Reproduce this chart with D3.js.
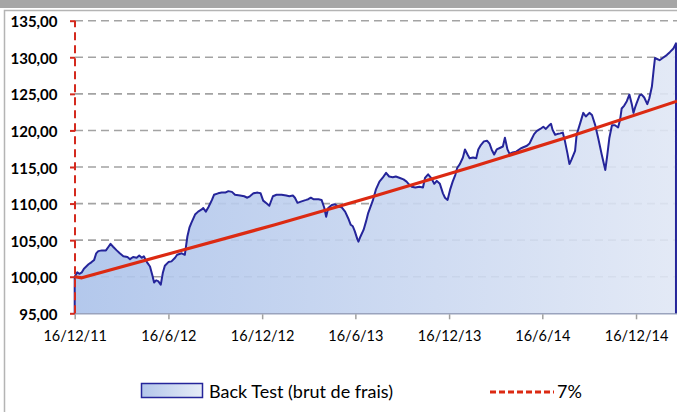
<!DOCTYPE html>
<html><head><meta charset="utf-8">
<script src="https://cdn.jsdelivr.net/npm/d3@7"></script>
<style>html,body{margin:0;padding:0;background:#fff;overflow:hidden}svg{display:block}</style>
</head><body>
<script>
// ---- data ----
const startDate = "2011-12-16";
const endDay = 1176;
const backTestDays = [0,5,9,14,18,27,33,38,42,46,53,61,66,70,75,82,88,95,103,108,114,121,126,131,135,141,147,152,155,159,163,168,172,176,183,189,196,200,209,215,220,224,228,235,241,248,251,256,261,268,272,280,287,294,300,307,313,323,331,337,342,349,357,363,368,375,380,387,394,404,413,419,426,430,435,443,452,456,461,466,476,482,487,491,495,502,508,515,521,528,534,539,543,547,552,554,558,564,569,573,582,588,595,601,608,614,621,627,635,642,648,653,658,665,673,680,684,690,697,702,707,713,719,723,728,733,738,743,747,752,758,762,767,771,778,784,788,793,799,805,810,814,819,824,830,836,840,845,849,855,862,870,876,883,888,892,897,902,909,915,920,925,930,933,938,942,948,953,957,962,966,970,977,980,987,993,998,1005,1010,1016,1022,1029,1036,1040,1044,1049,1055,1061,1065,1068,1073,1078,1083,1088,1091,1094,1097,1103,1107,1112,1118,1122,1127,1130,1133,1136,1142,1148,1156,1162,1169,1174];
const backTestValues = [100.0,100.6,100.4,100.6,101.1,101.7,102.0,102.3,103.2,103.5,103.6,103.6,104.1,104.5,104.1,103.6,103.2,102.8,102.7,102.4,102.7,102.6,102.9,102.6,102.8,102.0,101.4,100.1,99.2,99.5,99.4,98.9,100.5,101.5,102.0,102.1,102.6,103.0,103.2,103.0,105.5,106.7,107.4,108.5,108.9,109.2,109.4,108.9,109.5,110.5,111.2,111.4,111.5,111.5,111.7,111.6,111.2,111.1,111.0,110.8,111.0,111.4,111.5,111.4,110.4,110.0,109.7,111.0,111.2,111.2,111.1,111.0,111.1,110.8,110.1,110.3,110.5,110.6,110.8,110.6,110.6,110.5,109.5,108.2,109.4,109.8,109.9,109.6,109.5,108.9,108.0,107.1,106.9,106.2,105.1,104.8,105.5,106.4,107.6,108.7,110.4,111.9,113.0,113.5,114.2,113.7,113.6,113.7,113.5,113.3,113.0,112.6,112.3,112.2,112.3,112.2,113.5,114.0,113.4,112.7,113.1,112.7,111.4,110.8,110.5,111.9,113.0,113.9,114.9,115.4,116.3,117.4,116.7,116.2,116.3,116.2,117.4,118.0,118.5,118.6,118.2,117.4,116.7,117.4,117.6,117.8,119.0,117.4,116.8,117.0,117.1,117.5,117.7,117.9,118.2,118.8,119.5,119.9,120.2,120.5,120.2,120.6,120.9,120.1,119.4,119.5,119.6,119.7,118.6,116.9,115.4,116.0,117.2,119.4,121.0,122.4,121.9,122.4,122.1,120.8,119.0,116.7,114.6,116.7,119.0,120.7,120.7,120.4,121.5,123.0,123.4,124.0,124.9,123.5,122.4,123.1,123.7,124.8,124.9,124.5,123.6,124.4,126.0,128.0,129.9,129.8,129.6,129.9,130.3,130.7,131.2,131.9];
const trendDays = [0,14,190,391,584,780,973,1176];
const trendValues = [100.0,99.85,103.25,107.1,111.0,115.1,119.3,124.0];
const yTicks = [95,100,105,110,115,120,125,130,135];
const xTickDates = ["2011-12-16","2012-06-16","2012-12-16","2013-06-16","2013-12-16","2014-06-16","2014-12-16"];
const xTickLabels = ["16/12/11","16/6/12","16/12/12","16/6/13","16/12/13","16/6/14","16/12/14"];
const seriesNames = ["Back Test (brut de frais)","7%"];

// ---- drawing ----
const W = 677, H = 412;
const FONT = "Lato, 'Liberation Sans', sans-serif";
const parse = d3.timeParse("%Y-%m-%d");
const t0 = parse(startDate);
const dayToDate = d => d3.timeDay.offset(t0, d);
const backTest = backTestDays.map((d,i)=>({date:dayToDate(d), v:backTestValues[i]}));
const trend = trendDays.map((d,i)=>({date:dayToDate(d), v:trendValues[i]}));

const svg = d3.select("body").append("svg").attr("width",W).attr("height",H);
const defs = svg.append("defs");
const grad = defs.append("linearGradient").attr("id","areaGrad").attr("x1","0").attr("x2","1").attr("y1","0").attr("y2","0");
grad.append("stop").attr("offset","0").attr("stop-color","#abc2ea");
grad.append("stop").attr("offset","1").attr("stop-color","#e0e7f5");
const grad2 = defs.append("linearGradient").attr("id","legGrad").attr("x1","0").attr("x2","1").attr("y1","0").attr("y2","0");
grad2.append("stop").attr("offset","0").attr("stop-color","#b3c6ea");
grad2.append("stop").attr("offset","1").attr("stop-color","#e6ecf7");

// header band and frame
svg.append("rect").attr("x",0).attr("y",0).attr("width",W).attr("height",8).attr("fill","#a6a6a6");
svg.append("rect").attr("x",4.5).attr("y",10.5).attr("width",W).attr("height",H).attr("fill","none").attr("stroke","#b4b4b4").attr("stroke-width",1.5);

const x = d3.scaleTime().domain([t0, dayToDate(endDay)]).range([74.7, 677]);
const y = d3.scaleLinear().domain([95,135]).range([313.3, 20.7]);

// gridlines
svg.append("g").selectAll("line").data(yTicks.filter(t=>t>95)).join("line")
  .attr("x1",75).attr("x2",W).attr("y1",d=>y(d)).attr("y2",d=>y(d))
  .attr("stroke","#a3a3a3").attr("stroke-width",1.6).attr("stroke-dasharray","8,5");

// area
const area = d3.area().x(d=>x(d.date)).y0(y(95)).y1(d=>y(d.v));
svg.append("path").datum(backTest).attr("d",area).attr("fill","url(#areaGrad)").attr("fill-opacity",0.9);

// x axis line
svg.append("line").attr("x1",74.7).attr("x2",W).attr("y1",y(95)+0.5).attr("y2",y(95)+0.5).attr("stroke","#9aa3bd").attr("stroke-width",1.5);

// outline of back test (closed on sides)
const outline = [{date:backTest[0].date, v:95}].concat(backTest, [{date:backTest[backTest.length-1].date, v:95}]);
const line = d3.line().x(d=>x(d.date)).y(d=>y(d.v));
svg.append("path").datum(outline).attr("d",line).attr("fill","none").attr("stroke","#25259a").attr("stroke-width",2).attr("stroke-linejoin","round");

// 7% line
svg.append("path").datum(trend).attr("d",line).attr("fill","none").attr("stroke","#dc2a12").attr("stroke-width",3.2).attr("stroke-linejoin","round");

// y axis (red dashed)
const yAxis = d3.axisLeft(y).tickValues(yTicks).tickSize(5).tickPadding(12)
  .tickFormat(d=>d3.format(".2f")(d).replace(".",","));
const gy = svg.append("g").attr("transform","translate(75,0)").call(yAxis);
gy.select(".domain").attr("stroke","#d42a1e").attr("stroke-width",2).attr("stroke-dasharray","8,5").attr("d",`M0,${y(95)}V${y(135)}`);
gy.selectAll(".tick line").attr("stroke","#d42a1e").attr("stroke-width",2);
gy.selectAll(".tick text").attr("font-family",FONT).attr("font-weight","bold").attr("font-size",15).attr("fill","#000").attr("dx",-0.5).attr("dy","0.4em");

// x axis
const xAxis = d3.axisBottom(x).tickValues(xTickDates.map(parse)).tickSize(5).tickPadding(11)
  .tickFormat((d,i)=>xTickLabels[i]);
const gx = svg.append("g").attr("transform",`translate(0,${y(95)+1})`).call(xAxis);
gx.select(".domain").remove();
gx.selectAll(".tick line").attr("stroke","#a0a0a0").attr("stroke-width",1.5);
gx.selectAll(".tick text").attr("font-family",FONT).attr("font-size",14.5).attr("fill","#000");

// legend
const lg = svg.append("g");
lg.append("rect").attr("x",141.5).attr("y",383.5).attr("width",61).attr("height",14).attr("fill","url(#legGrad)").attr("stroke","#25259a").attr("stroke-width",1.5);
lg.append("text").attr("x",209).attr("y",398).text(seriesNames[0]).attr("font-family",FONT).attr("font-size",18);
lg.append("line").attr("x1",490).attr("x2",554).attr("y1",392).attr("y2",392).attr("stroke","#dc2a12").attr("stroke-width",3).attr("stroke-dasharray","6,3");
lg.append("text").attr("x",557).attr("y",398).text(seriesNames[1]).attr("font-family",FONT).attr("font-size",18);
</script>
</body></html>
